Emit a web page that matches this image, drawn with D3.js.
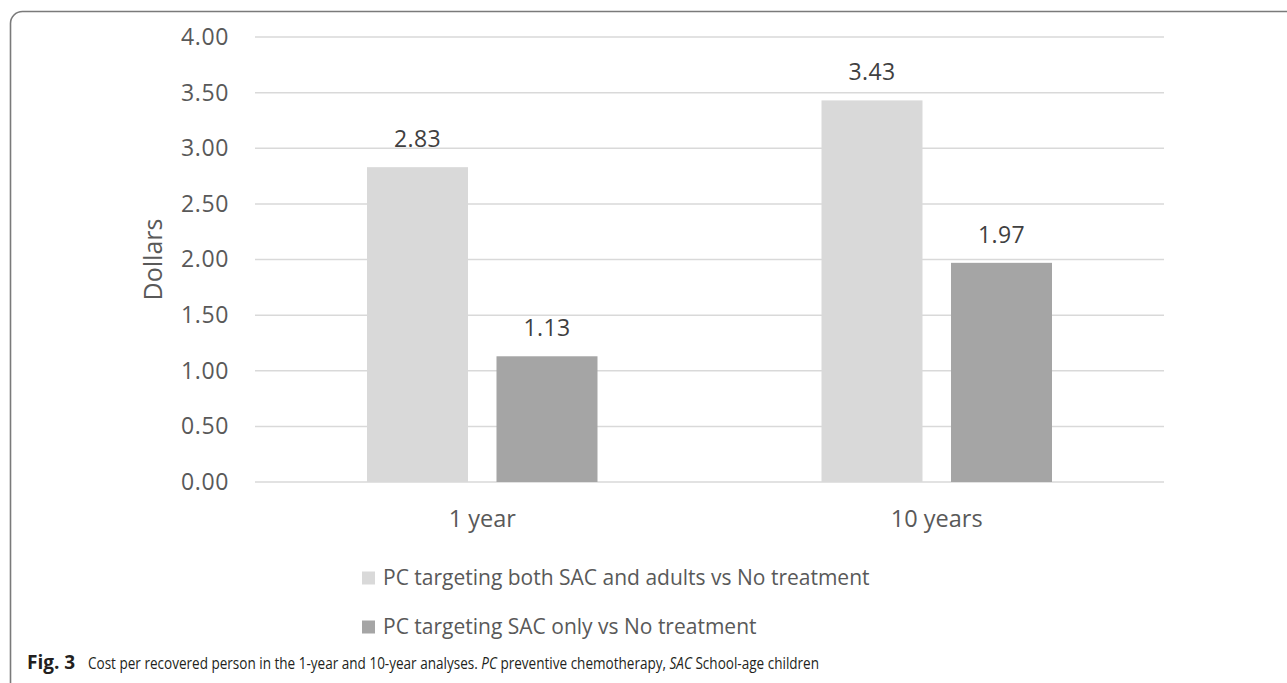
<!DOCTYPE html>
<html>
<head>
<meta charset="utf-8">
<script src="https://cdn.jsdelivr.net/npm/d3@7"></script>
<style>
  html, body { margin: 0; padding: 0; background: #fff; }
  svg { display: block; }
  text { font-family: "Open Sans", "Noto Sans", sans-serif; }
</style>
</head>
<body>
<svg id="chart" width="1287" height="683"></svg>
<script>
// Cost per recovered person (dollars)
const categories = ["1 year", "10 years"];
const seriesNames = [
  "PC targeting both SAC and adults vs No treatment",
  "PC targeting SAC only vs No treatment"
];
const bothSacAdults = [2.83, 3.43];
const sacOnly = [1.13, 1.97];
const yTicks = [0, 0.5, 1, 1.5, 2, 2.5, 3, 3.5, 4];
const seriesColors = ["#d9d9d9", "#a5a5a5"];

const svg = d3.select("#chart");

// rounded figure frame (right and bottom edges run past the page)
svg.append("rect")
  .attr("x", 10.5).attr("y", 11.5)
  .attr("width", 1320).attr("height", 690)
  .attr("rx", 12).attr("ry", 12)
  .attr("fill", "none")
  .attr("stroke", "#7a7a7a")
  .attr("stroke-width", 1.6);

const plot = { left: 255, right: 1164, top: 37, bottom: 482 };

const x0 = d3.scaleBand()
  .domain(categories)
  .range([plot.left, plot.right]);

const x1 = d3.scaleBand()
  .domain(d3.range(seriesNames.length))
  .range([112, x0.bandwidth() - 112])
  .paddingInner(0.22);

const y = d3.scaleLinear().domain([0, 4]).range([plot.bottom, plot.top]);

// horizontal gridlines
svg.append("g")
  .selectAll("line")
  .data(yTicks)
  .join("line")
  .attr("x1", plot.left).attr("x2", plot.right)
  .attr("y1", d => y(d)).attr("y2", d => y(d))
  .attr("stroke", "#d9d9d9")
  .attr("stroke-width", 1.5);

// y axis labels
const yAxis = d3.axisLeft(y)
  .tickValues(yTicks)
  .tickFormat(d3.format(".2f"))
  .tickSize(0)
  .tickPadding(26);
const yG = svg.append("g")
  .attr("transform", `translate(${plot.left},0)`)
  .call(yAxis);
yG.select(".domain").remove();
yG.selectAll("text")
  .attr("font-family", '"Open Sans", sans-serif')
  .attr("font-size", 23)
  .attr("letter-spacing", 0.6)
  .attr("fill", "#595959");

// x axis labels
const xAxis = d3.axisBottom(x0).tickSize(0).tickPadding(28);
const xG = svg.append("g")
  .attr("transform", `translate(0,${plot.bottom})`)
  .call(xAxis);
xG.select(".domain").remove();
xG.selectAll("text")
  .attr("font-family", '"Open Sans", sans-serif')
  .attr("font-size", 23.5)
  .attr("fill", "#595959");

// y axis title
svg.append("text")
  .attr("transform", `translate(162,${(plot.top + plot.bottom) / 2}) rotate(-90)`)
  .attr("text-anchor", "middle")
  .attr("font-size", 25)
  .attr("fill", "#595959")
  .text("Dollars");

// bars
const rows = categories.map((c, i) => ({
  cat: c,
  vals: [bothSacAdults[i], sacOnly[i]]
}));

const groups = svg.append("g")
  .selectAll("g")
  .data(rows)
  .join("g")
  .attr("transform", d => `translate(${x0(d.cat)},0)`);

groups.selectAll("rect")
  .data(d => d.vals.map((v, s) => ({ v, s })))
  .join("rect")
  .attr("x", d => x1(d.s))
  .attr("width", x1.bandwidth())
  .attr("y", d => y(d.v))
  .attr("height", d => y(0) - y(d.v))
  .attr("fill", d => seriesColors[d.s]);

groups.selectAll("text")
  .data(d => d.vals.map((v, s) => ({ v, s })))
  .join("text")
  .attr("x", d => x1(d.s) + x1.bandwidth() / 2)
  .attr("y", d => y(d.v) - 20)
  .attr("text-anchor", "middle")
  .attr("font-size", 23)
  .attr("letter-spacing", 0.4)
  .attr("fill", "#404040")
  .text(d => d3.format(".2f")(d.v));

// legend
const legend = svg.append("g")
  .selectAll("g")
  .data(seriesNames)
  .join("g")
  .attr("transform", (d, i) => `translate(362,${578 + i * 49})`);

legend.append("rect")
  .attr("x", 0).attr("y", -6.5)
  .attr("width", 13).attr("height", 13)
  .attr("fill", (d, i) => seriesColors[i]);

legend.append("text")
  .attr("x", 21)
  .attr("dy", "0.35em")
  .attr("font-size", 21)
  .attr("fill", "#595959")
  .text(d => d);

// figure caption: bold figure number, then a narrower-set description
svg.append("text")
  .attr("x", 27).attr("y", 669)
  .attr("font-size", 19)
  .attr("font-weight", "bold")
  .attr("fill", "#231f20")
  .text("Fig. 3");

const capBody = svg.append("g").attr("transform", "translate(88,669)");
const cap = capBody.append("text")
  .attr("x", 0).attr("y", 0)
  .attr("font-size", 16.5)
  .attr("fill", "#231f20");
cap.append("tspan").text("Cost per recovered person in the 1-year and 10-year analyses. ");
cap.append("tspan").attr("font-style", "italic").text("PC");
cap.append("tspan").text(" preventive chemotherapy, ");
cap.append("tspan").attr("font-style", "italic").text("SAC");
cap.append("tspan").text(" School-age children");
const capWidth = 732;
const natural = cap.node().getComputedTextLength();
capBody.attr("transform", `translate(88,669) scale(${capWidth / natural},1)`);
</script>
</body>
</html>
